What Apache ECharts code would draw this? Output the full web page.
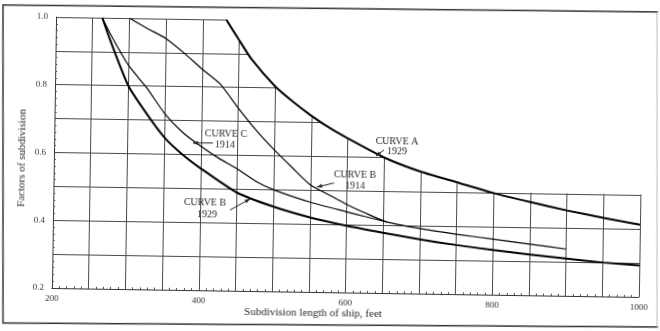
<!DOCTYPE html>
<html><head><meta charset="utf-8">
<script src="https://cdn.jsdelivr.net/npm/echarts@6/dist/echarts.min.js"></script>
<style>
html,body{margin:0;padding:0;background:#fff;overflow:hidden}
#c{position:absolute;left:0;top:0;width:670px;height:340px;transform-origin:54px 152px;transform:rotate(0.875deg)}
</style>
</head><body><div id="c"></div>
<script>
// ---- data ----
const xTickLabels = [200, 400, 600, 800, 1000];
const yTickLabels = [0.2, 0.4, 0.6, 0.8, 1.0];
const curveA1929 = [[432,1.0],[450,0.94],[467,0.885],[500,0.805],[525,0.76],[550,0.72],[575,0.685],[600,0.655],[650,0.60],[700,0.56],[750,0.53],[800,0.50],[850,0.475],[900,0.452],[950,0.432],[1000,0.413]];
const curveB1929 = [[263,1.0],[275,0.93],[300,0.80],[325,0.72],[350,0.65],[375,0.60],[400,0.56],[450,0.49],[500,0.45],[550,0.42],[600,0.397],[650,0.378],[700,0.36],[750,0.345],[800,0.332],[850,0.32],[900,0.31],[950,0.30],[1000,0.293]];
const curveC1914 = [[263,1.0],[275,0.95],[300,0.86],[325,0.795],[350,0.72],[375,0.665],[400,0.625],[425,0.59],[450,0.56],[475,0.525],[500,0.50],[550,0.465],[600,0.438],[625,0.425],[655,0.41]];
const curveB1914 = [[300,1.0],[325,0.97],[350,0.942],[375,0.90],[400,0.853],[425,0.81],[450,0.74],[475,0.675],[500,0.618],[525,0.566],[550,0.516],[575,0.488],[600,0.46],[625,0.436],[655,0.41],[700,0.392],[750,0.377],[800,0.364],[850,0.351],[900,0.338]];
const curveLabels = [['CURVE A','1929'], ['CURVE C','1914'], ['CURVE B','1914'], ['CURVE B','1929']];
const yTitle = 'Factors of subdivision';
const xTitle = 'Subdivision length of ship, feet';

// ---- layout (screen pixels of the scanned figure) ----
const labelPos = [
  {l1:[397,142], l2:[397,152], arrow:[[384,150],[376,156]]},
  {l1:[226,134], l2:[225,145], arrow:[[213,143],[193,143]]},
  {l1:[355,175], l2:[355,186], arrow:[[334,183],[317,187]]},
  {l1:[205,203], l2:[207,215], arrow:[[230,210],[250,199]]}
];
const TH = 0.875 * Math.PI / 180, OX = 54, OY = 152;
const unrot = ([x, y]) => {
  const dx = x - OX, dy = y - OY;
  return [OX + dx*Math.cos(TH) + dy*Math.sin(TH), OY - dx*Math.sin(TH) + dy*Math.cos(TH)];
};

// ---- chart ----
const SERIF = 'Liberation Serif, DejaVu Serif, serif';
const chart = echarts.init(document.getElementById('c'));
const SM = 0.2;
const curve = (name, data, w) => ({
  name, type:'line', data, symbol:'none', showSymbol:false,
  smooth:SM, z:5, lineStyle:{color:'#000', width:w}
});
// the printed grid stops at curve A (and at 0.5 on the far right): white mask above it
const maskEdge = curveA1929.map(p => [p[0], Math.max(p[1], 0.5)]);
const maskSeries = {
  type:'custom', coordinateSystem:'cartesian2d', data:[[600, 0.6]], z:3, silent:true, clip:false,
  renderItem:(params, api) => {
    const pts = maskEdge.map(p => { const c = api.coord(p); return [c[0], c[1] + (p[1] > 0.5001 ? 1 : -1)]; });
    const last = api.coord([maskEdge[maskEdge.length-1][0], 1.0]);
    const first = api.coord([maskEdge[0][0], 1.0]);
    pts[pts.length-1][0] += 3;
    pts.push([last[0] + 3, last[1] - 10]);
    pts.push([first[0], first[1] - 10]);
    return {type:'polygon', shape:{points:pts}, style:{fill:'#fff', stroke:null}};
  }
};

chart.setOption({
  animation:false,
  backgroundColor:'#fff',
  grid:{left:54, top:17, width:587, height:271},
  xAxis:{
    type:'value', min:200, max:1000, interval:50,
    axisLine:{show:true, lineStyle:{color:'#333', type:'dotted', width:1}},
    axisTick:{show:false, inside:true},
    minorTick:{show:true, splitNumber:5, length:2, lineStyle:{color:'#555'}},
    splitLine:{show:true, lineStyle:{color:'#4a4a4a', width:1}},
    axisLabel:{formatter:v => xTickLabels.includes(v) ? String(v) : '', fontFamily:SERIF, fontSize:9, color:'#333', margin:6, showMinLabel:true, showMaxLabel:true}
  },
  yAxis:{
    type:'value', min:0.2, max:1.0, interval:0.1,
    axisLine:{show:true, lineStyle:{color:'#333', type:'dotted', width:1}},
    axisTick:{show:false, inside:true},
    minorTick:{show:true, splitNumber:5, length:2, lineStyle:{color:'#555'}},
    splitLine:{show:true, lineStyle:{color:'#4a4a4a', width:1}},
    axisLabel:{formatter:v => yTickLabels.some(t => Math.abs(t - v) < 1e-6) ? v.toFixed(1) : '', fontFamily:SERIF, fontSize:9, color:'#333', margin:8}
  },
  series:[
    maskSeries,
    curve('Curve A 1929', curveA1929, 2),
    curve('Curve B 1929', curveB1929, 2),
    curve('Curve C 1914', curveC1914, 1.2),
    curve('Curve B 1914', curveB1914, 1.2)
  ]
});

// annotations & frame (positions given in screen pixels, mapped into the rotated canvas)
const g = [];
g.push({type:'polyline', shape:{points:[[658,12],[3,5],[3,323],[658,327]].map(unrot)}, style:{stroke:'#333', lineWidth:1.5, fill:null}, z:100});
g.push({type:'polyline', shape:{points:[[657,12],[657,327]].map(unrot)}, style:{stroke:'#bbb', lineWidth:1, fill:null}, z:100});
const txt = (t, p, size, rot) => { const q = unrot(p); return {type:'text', x:q[0], y:q[1], rotation:rot || 0, style:{text:t, font:size + 'px ' + SERIF, fill:'#2a2a2a', align:'center', verticalAlign:'middle'}, z:100}; };
g.push(txt(yTitle, [22,158], 11, Math.PI/2));
g.push(txt(xTitle, [313,313], 11));
labelPos.forEach((a, i) => {
  g.push(txt(curveLabels[i][0], a.l1, 10));
  g.push(txt(curveLabels[i][1], a.l2, 10));
  const s = unrot(a.arrow[0]), e = unrot(a.arrow[1]);
  g.push({type:'line', shape:{x1:s[0],y1:s[1],x2:e[0],y2:e[1]}, style:{stroke:'#222', lineWidth:1}, z:100});
  const ang = Math.atan2(e[1]-s[1], e[0]-s[0]);
  const L = 5, W = 2;
  const bx = e[0] - L*Math.cos(ang), by = e[1] - L*Math.sin(ang);
  g.push({type:'polygon', shape:{points:[[e[0],e[1]],[bx - W*Math.sin(ang), by + W*Math.cos(ang)],[bx + W*Math.sin(ang), by - W*Math.cos(ang)]]}, style:{fill:'#222'}, z:100});
});
chart.setOption({graphic:g});
</script>
</body></html>
